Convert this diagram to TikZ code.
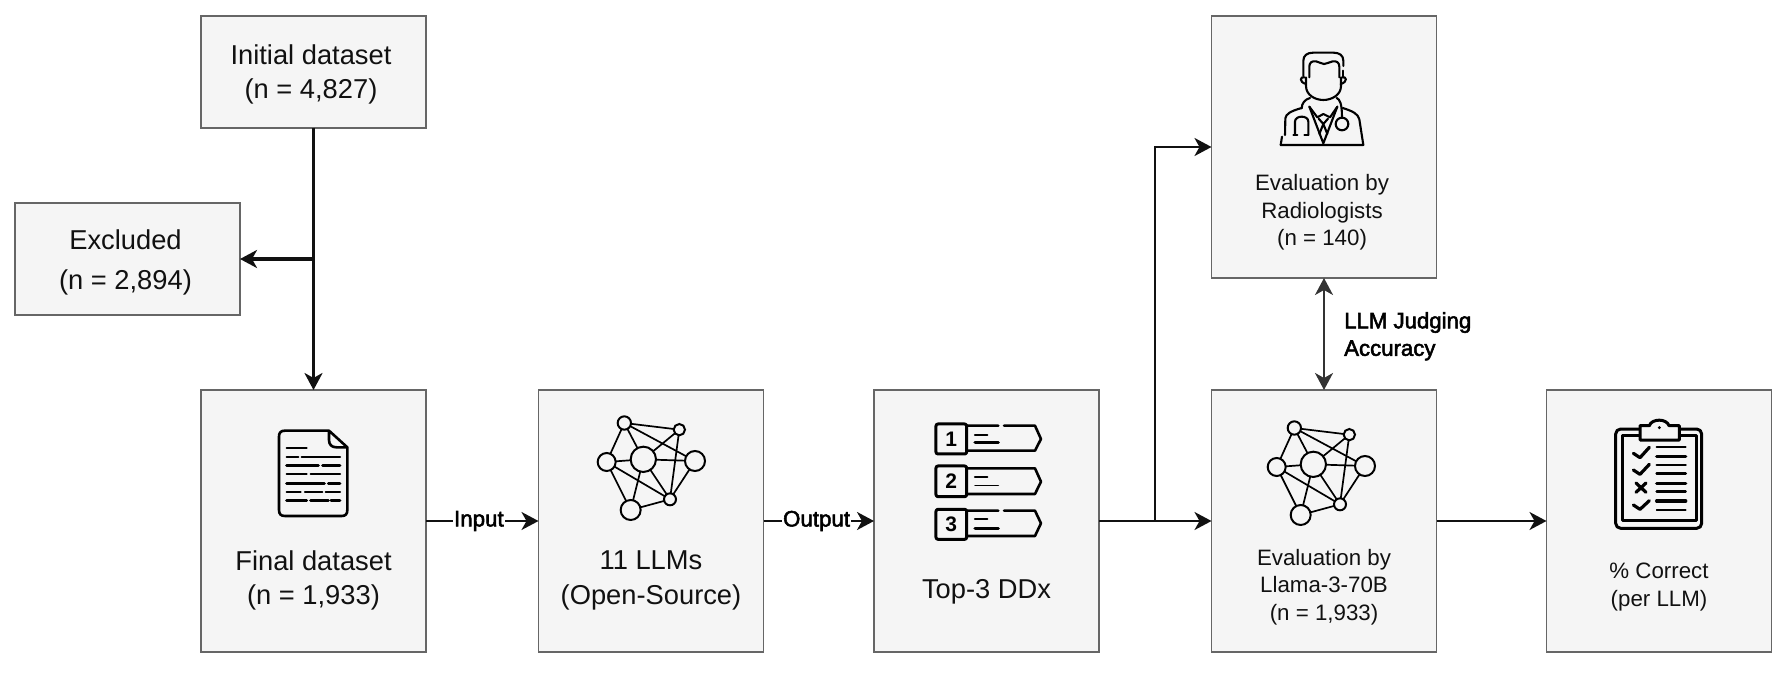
\documentclass[tikz,border=0pt]{standalone}
\usepackage{fontspec}
\setmainfont{Liberation Sans}
\newfontfamily\labfont[FakeBold=2.4]{Liberation Sans}
\usetikzlibrary{arrows.meta,calc}
\definecolor{boxfill}{HTML}{F5F5F5}
\definecolor{boxline}{HTML}{666666}
\definecolor{ink}{HTML}{111111}
\tikzset{
  flowbox/.style={draw=boxline,fill=boxfill,line width=1.6pt,minimum width=225pt,inner sep=0pt,outer sep=0pt},
  bigtext/.style={align=center,text=ink,inner sep=0pt,font=\fontsize{27.3pt}{34.5pt}\selectfont},
  smalltext/.style={align=center,text=ink,inner sep=0pt,font=\fontsize{22.3pt}{27.5pt}\selectfont},
  flowlabel/.style={fill=white,inner sep=1pt,text=black,font=\labfont\fontsize{22.3pt}{26pt}\selectfont},
  sidelabel/.style={align=left,anchor=north west,inner sep=0pt,text=black,font=\labfont\fontsize{22.2pt}{27.5pt}\selectfont},
  tip/.style={-{Stealth[length=17pt,width=18pt,inset=5pt]}},
  heavy/.style={tip,line width=2.9pt,draw=ink},
  thin/.style={tip,line width=1.9pt,draw=ink},
  iconline/.style={draw=black,line width=2.6pt,line cap=round,line join=round},
  iconthin/.style={draw=black,line width=1.8pt,line cap=round,line join=round},
  iconthick/.style={draw=black,line width=3.4pt,line cap=round,line join=round},
  digit/.style={inner sep=0pt,text=black,font=\bfseries\fontsize{21pt}{21pt}\selectfont}
}
\newcommand{\netIcon}[2]{%
 \begin{scope}[shift={(#1,#2)},x=0.3333pt,y=-0.3333pt]
  \draw[draw=black,line width=1.7pt]
   (133,66)--(298,86) (133,66)--(80,183) (133,66)--(190,175) (133,66)--(345,180)
   (298,86)--(190,175) (298,86)--(270,295) (80,183)--(190,175) (80,183)--(270,295)
   (80,183)--(152,327) (190,175)--(345,180) (190,175)--(270,295) (190,175)--(152,327)
   (345,180)--(270,295) (152,327)--(270,295);
  \begin{scope}[draw=black,fill=boxfill,line width=2pt]
   \filldraw (133,66) circle[radius=20];
   \filldraw (298,86) circle[radius=17];
   \filldraw (80,183) circle[radius=27];
   \filldraw (190,175) circle[radius=38];
   \filldraw (345,180) circle[radius=30];
   \filldraw (270,295) circle[radius=18];
   \filldraw (152,327) circle[radius=30];
  \end{scope}
 \end{scope}}
\begin{document}
\begin{tikzpicture}[x=1pt,y=-1pt]
\useasboundingbox (0,0) rectangle (1787,674);
% boxes
\node[flowbox,minimum height=112pt] (init) at (313.5,72) {};
\node[flowbox,minimum height=112pt] (excl) at (127.5,259) {};
\node[flowbox,minimum height=262pt] (final) at (313.5,521) {};
\node[flowbox,minimum height=262pt] (llms) at (651,521) {};
\node[flowbox,minimum height=262pt] (top) at (986.5,521) {};
\node[flowbox,minimum height=262pt] (rad) at (1324,147) {};
\node[flowbox,minimum height=262pt] (llama) at (1324,521) {};
\node[flowbox,minimum height=262pt] (corr) at (1659,521) {};
% thicker lower edges
\foreach \b in {final,llms,top,llama,corr}
  \draw[boxline,line width=2.8pt] (\b.south west) -- (\b.south east);
% box texts
\node[bigtext] (initT) at (311,74.5) {Initial dataset\\(n = 4,827)};
\node[bigtext] (exclT) at (125.5,262.5) {Excluded\\[5.5pt](n = 2,894)};
\node[bigtext] (finalT) at (313.5,580.5) {Final dataset\\(n = 1,933)};
\node[bigtext] (llmsT) at (651,580.5) {11 LLMs\\(Open-Source)};
\node[bigtext] (topT) at (986.5,592) {Top-3 DDx};
\node[smalltext] (radT) at (1322,212.5) {Evaluation by\\Radiologists\\(n = 140)};
\node[smalltext] (llamaT) at (1324,587) {Evaluation by\\Llama-3-70B\\(n = 1,933)};
\node[smalltext] (corrT) at (1659,587) {\% Correct\\(per LLM)};
% connectors
\coordinate (jex) at (init.south |- excl.east);
\coordinate (jup) at (1155,521);
\draw[heavy] (init.south) -- (final.north);
\draw[heavy,line width=3.2pt] (jex) -- (excl.east);
\draw[thin] (final.east) -- node[flowlabel,pos=0.47] (inL) {Input} (llms.west);
\draw[thin] (llms.east) -- node[flowlabel,pos=0.48] (outL) {Output} (top.west);
\draw[thin] (top.east) -- (llama.west);
\draw[heavy] (jup) |- (rad.west);
\draw[thin] (llama.east) -- (corr.west);
\draw[{Stealth[length=17pt,width=18pt,inset=5pt]}-{Stealth[length=17pt,width=18pt,inset=5pt]},line width=2pt,draw=black!80] (rad.south) -- (llama.north);
\node[sidelabel] (judge) at (1344,312) {LLM Judging\\Accuracy};
% document icon
\begin{scope}[shift={(260,410)},x=0.3333pt,y=-0.3333pt]
 \draw[iconline] (207,62) -- (75,62) .. controls (62,62) and (57,68) .. (57,80) -- (57,300) .. controls (57,312) and (62,318) .. (75,318) -- (245,318) .. controls (257,318) and (262,312) .. (262,300) -- (262,112) -- (207,62) -- (207,90) .. controls (207,104) and (215,112) .. (230,112) -- (262,112);
 \foreach \y/\a/\c in {115/80/140,142/80/115,142/125/240,193/80/140,193/152/240,245/80/122,245/135/187,245/197/240}
  \draw[iconthin,line width=2.2pt] (\a,\y) -- (\c,\y);
 \foreach \y/\a/\c in {166/80/175,166/188/240,220/80/193,220/205/240,272/80/140,272/152/205,272/213/240}
  \draw[iconline,line width=3pt] (\a,\y) -- (\c,\y);
\end{scope}
% network icons
\netIcon{580}{401}
\netIcon{1250}{406}
% top-3 icon
\begin{scope}[shift={(780,360)},x=0.3333pt,y=-0.3333pt]
 \foreach \t/\b in {192/282,318/410,448/538}
  \draw[iconline,line width=3pt,rounded corners=2pt] (468,\t) rectangle (560,\b);
 \draw[iconline] (560,197) -- (655,197) (672,197) -- (765,197) -- (783,237) -- (765,272) -- (560,272);
 \draw[iconline] (560,325) -- (765,325) -- (783,365) -- (765,402) -- (560,402);
 \draw[iconline] (560,452) -- (655,452) (672,452) -- (765,452) -- (783,490) -- (765,528) -- (560,528);
 \draw[iconthin,line width=2.2pt] (585,225) -- (622,225) (585,351) -- (622,351) (585,478) -- (622,478);
 \draw[iconline,line width=3pt] (585,248) -- (655,248) (585,505) -- (655,505);
 \draw[iconthin,line width=1.4pt] (585,376) -- (655,376);
 \node[digit] (d1) at (514,237) {1};
 \node[digit] (d2) at (514,364) {2};
 \node[digit] (d3) at (514,492) {3};
\end{scope}
% doctor icon
\begin{scope}[shift={(1260,40)},x=0.3333pt,y=-0.3333pt]
 \begin{scope}[iconline,line width=2.1pt]
  \draw (130,108) -- (130,62) .. controls (130,46) and (142,38) .. (160,38) -- (220,38) .. controls (238,38) and (250,46) .. (250,62) -- (250,78);
  \draw (248,92) -- (248,112);
  \draw (148,112) -- (148,80) .. controls (148,68) and (156,62) .. (168,64) .. controls (178,66) and (186,72) .. (192,72) .. controls (200,72) and (208,66) .. (218,64) .. controls (230,62) and (238,68) .. (238,80) -- (238,112);
  \draw (138,112) -- (138,138) .. controls (138,165) and (165,180) .. (190,180) .. controls (215,180) and (243,165) .. (243,138) -- (243,112);
  \draw (134,112) .. controls (120,108) and (116,126) .. (138,132);
  \draw (246,112) .. controls (260,108) and (264,126) .. (242,132);
  \draw (75,285) -- (76,235) .. controls (78,222) and (90,214) .. (125,204);
  \draw (62,315) -- (66,290);
  \draw (62,315) -- (310,315) -- (298,238) .. controls (294,222) and (280,214) .. (248,204);
  \draw (125,205) .. controls (125,190) and (135,178) .. (150,174);
  \draw (230,174) .. controls (240,178) and (246,192) .. (246,234);
  \draw (100,285) -- (112,285);
  \draw (133,285) -- (145,285);
  \draw (105,285) -- (105,245) .. controls (105,225) and (145,225) .. (145,245) -- (145,285);
  \draw (246,252) circle[radius=19];
  \draw (148,200) -- (190,310) -- (232,200);
  \draw (148,200) -- (172,232) -- (190,222) -- (210,232) -- (232,200);
  \draw (176,236) -- (190,252) -- (204,236) (190,252) -- (178,282) (190,252) -- (202,282);
 \end{scope}
\end{scope}
% clipboard icon
\begin{scope}[shift={(1600,415)},x=0.3333pt,y=-0.3333pt]
 \draw[iconline,line width=3pt,rounded corners=5pt] (47,42) rectangle (305,340);
 \draw[iconline,line width=3pt] (68,62) rectangle (288,318);
 \draw[iconline,line width=3pt,fill=boxfill] (120,32) -- (148,32) .. controls (155,10) and (200,10) .. (207,32) -- (238,32) -- (238,75) -- (120,75) -- cycle;
 \fill[black] (178,38) circle[radius=5];
 \draw[iconthick,line width=3.2pt] (100,115) -- (120,128) -- (148,97);
 \draw[iconthick,line width=3.2pt] (100,165) -- (120,178) -- (148,148);
 \draw[iconthick,line width=3.2pt] (108,204) -- (138,232) (138,204) -- (108,232);
 \draw[iconthick,line width=3.2pt] (100,270) -- (120,283) -- (148,257);
 \foreach \y/\w in {97/2,124/3.4,150/2.4,176/2.8,205/3.4,230/2.4,258/3.4,285/1.8}
  \draw[draw=black,line width=\w pt,line cap=round] (170,\y) -- (257,\y);
\end{scope}
\end{tikzpicture}
\end{document}
